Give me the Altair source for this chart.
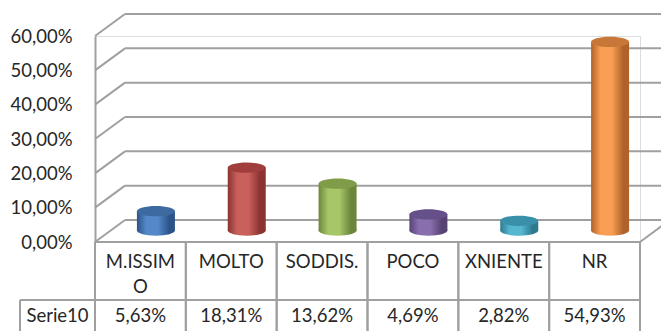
import altair as alt
import pandas as pd

categories = ["M.ISSIMO", "MOLTO", "SODDIS.", "POCO", "XNIENTE", "NR"]
table_labels = ["M.ISSIM\nO", "MOLTO", "SODDIS.", "POCO", "XNIENTE", "NR"]
values = [5.63, 18.31, 13.62, 4.69, 2.82, 54.93]
series_name = "Serie10"
tick_values = [0, 10, 20, 30, 40, 50, 60]

# styles (edge, light, top) per bar
edge_colors = ["#2c5488", "#8a3331", "#6b863a", "#574373", "#2d7a8f", "#b0622a"]
light_colors = ["#5389c9", "#c9605c", "#a6c667", "#8a6fae", "#56b7d1", "#f99e52"]
top_colors = ["#3d6aa1", "#a03e3c", "#819c48", "#66508a", "#3a90a8", "#c97739"]

W, H = 545, 206
DX, DY = 30, -22
BX, BY = 15.5, -11.5
BAR_W = 38
FONT = "Lato"
FS = 18.5
TXT = "#262626"
GRID = "#a0a0a0"

df = pd.DataFrame({
    "cat": categories,
    "label": table_labels,
    "value": values,
    "vlabel": [f"{v:.2f}".replace(".", ",") + "%" for v in values],
    "zero": [0.0] * len(values),
})
ticks = pd.DataFrame({"tick": tick_values})

xs = alt.Scale(domain=categories, paddingInner=0, paddingOuter=0)
ys = alt.Scale(domain=[0, 60], nice=False)

yaxis = alt.Axis(
    values=tick_values,
    labelExpr="replace(format(datum.value, '.2f'), '.', ',') + '%'",
    ticks=False, grid=False, title=None, labelOverlap=False,
    domainColor=GRID, domainWidth=2,
    labelPadding=23, labelFont=FONT, labelFontSize=FS, labelColor=TXT,
)

base_t = alt.Chart(ticks)
back_grid = base_t.mark_rule(color=GRID, strokeWidth=2, yOffset=DY).encode(
    y=alt.Y("tick:Q", scale=ys, axis=yaxis),
    x=alt.value(DX), x2=alt.value(W + 60),
)
diag = base_t.mark_rule(color=GRID, strokeWidth=2, y2Offset=DY).encode(
    y=alt.Y("tick:Q", scale=ys, axis=yaxis), y2="tick:Q",
    x=alt.value(0), x2=alt.value(DX),
)
right_diag = alt.Chart(ticks).transform_filter("datum.tick == 0").mark_rule(
    color=GRID, strokeWidth=2, y2Offset=DY).encode(
    y=alt.Y("tick:Q", scale=ys, axis=yaxis), y2="tick:Q",
    x=alt.value(W), x2=alt.value(W + DX),
)
front_floor = alt.Chart(ticks).transform_filter("datum.tick == 0").mark_rule(
    color=GRID, strokeWidth=2).encode(
    y=alt.Y("tick:Q", scale=ys, axis=yaxis), x=alt.value(0), x2=alt.value(W),
)

ellipse = "M-1,0A1,0.27,0,1,1,1,0A1,0.27,0,1,1,-1,0Z"

bar_layers = []
for i, c in enumerate(categories):
    grad = alt.LinearGradient(
        gradient="linear", x1=0, x2=1, y1=0, y2=0,
        stops=[
            alt.GradientStop(offset=0, color=edge_colors[i]),
            alt.GradientStop(offset=0.25, color=light_colors[i]),
            alt.GradientStop(offset=0.55, color=light_colors[i]),
            alt.GradientStop(offset=0.85, color=edge_colors[i]),
            alt.GradientStop(offset=1, color=edge_colors[i]),
        ],
    )
    sub = alt.Chart(df).transform_filter(alt.datum.cat == c)
    bottom = sub.mark_point(shape=ellipse, size=BAR_W ** 2, filled=True, fill=grad,
                            opacity=1, strokeWidth=0, xOffset=BX, yOffset=BY).encode(
        x=alt.X("cat:N", scale=xs, axis=None),
        y=alt.Y("zero:Q", scale=ys, axis=yaxis),
    )
    body = sub.mark_bar(size=BAR_W, fill=grad, xOffset=BX, yOffset=BY, y2Offset=BY).encode(
        x=alt.X("cat:N", scale=xs, axis=None),
        y=alt.Y("value:Q", scale=ys, axis=yaxis),
    )
    top = sub.mark_point(shape=ellipse, size=BAR_W ** 2, filled=True, fill=top_colors[i],
                         opacity=1, strokeWidth=0, xOffset=BX, yOffset=BY).encode(
        x=alt.X("cat:N", scale=xs, axis=None),
        y=alt.Y("value:Q", scale=ys, axis=yaxis),
    )
    bar_layers += [bottom, body, top]

base = alt.Chart(df)
vlines_l = base.mark_rule(color=GRID, strokeWidth=2).encode(
    x=alt.X("cat:N", scale=xs, axis=None, bandPosition=0),
    y=alt.value(H), y2=alt.value(H + 95),
)
vlines_r = base.mark_rule(color=GRID, strokeWidth=2).encode(
    x=alt.X("cat:N", scale=xs, axis=None, bandPosition=1),
    y=alt.value(H), y2=alt.value(H + 95),
)
row_line = alt.Chart(ticks).transform_filter("datum.tick == 0").mark_rule(
    color=GRID, strokeWidth=2).encode(
    x=alt.value(-75), x2=alt.value(W), y=alt.value(H + 58),
)
left_line = alt.Chart(ticks).transform_filter("datum.tick == 0").mark_rule(
    color=GRID, strokeWidth=2).encode(
    x=alt.value(-75), y=alt.value(H + 58), y2=alt.value(H + 95),
)
cat_text = base.mark_text(font=FONT, fontSize=FS, color=TXT, baseline="alphabetic",
                          lineBreak="\n", lineHeight=25).encode(
    x=alt.X("cat:N", scale=xs, axis=None),
    y=alt.value(H + 26),
    text="label:N",
)
val_text = base.mark_text(font=FONT, fontSize=FS, color=TXT, baseline="alphabetic").encode(
    x=alt.X("cat:N", scale=xs, axis=None),
    y=alt.value(H + 80),
    text="vlabel:N",
)
series_text = alt.Chart(pd.DataFrame({"s": [series_name]})).mark_text(
    font=FONT, fontSize=FS, color=TXT, baseline="alphabetic").encode(
    x=alt.value(-37.5), y=alt.value(H + 80), text="s:N",
)

chart = alt.layer(
    back_grid, diag, right_diag, *bar_layers, front_floor,
    vlines_l, vlines_r, row_line, left_line, cat_text, val_text, series_text,
).properties(
    width=W, height=H,
    autosize=alt.AutoSizeParams(type="none"),
    padding={"left": 95, "top": 36, "right": 21, "bottom": 89},
).configure_view(stroke=None).configure_axisY(labelOverlap=False).configure(background="white")

chart.save("out.html", embed_options={"renderer": "svg", "actions": False})
